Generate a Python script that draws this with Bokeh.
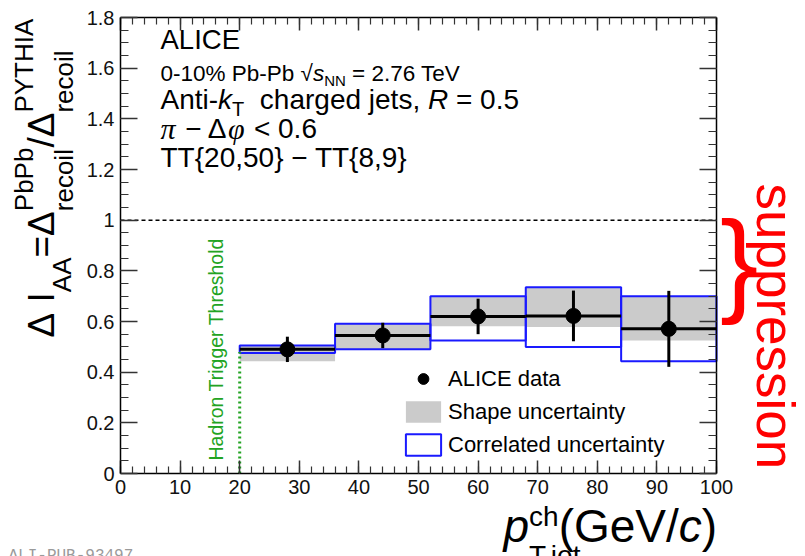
import math
from bokeh.plotting import figure
from bokeh.models import (Range1d, FixedTicker, LinearAxis, Label, Legend, LegendItem)
from bokeh.embed import file_html
from bokeh.resources import INLINE

# ---------------- data ----------------
bin_lo = [20, 36, 52, 68, 84]
bin_hi = [36, 52, 68, 84, 100]
bin_center = [28, 44, 60, 76, 92]
i_aa = [0.490, 0.545, 0.620, 0.622, 0.571]
stat_err = [0.050, 0.050, 0.070, 0.100, 0.150]
shape_lo = [0.443, 0.490, 0.581, 0.578, 0.525]
shape_hi = [0.505, 0.590, 0.700, 0.735, 0.700]
corr_lo = [0.476, 0.490, 0.525, 0.499, 0.443]
corr_hi = [0.505, 0.591, 0.700, 0.735, 0.700]
reference_level = 1.0
threshold_x = [20]
threshold_top = [0.48]

XMIN, XMAX = 0, 100
YMIN, YMAX = 0, 1.8
x_ticks = [0, 10, 20, 30, 40, 50, 60, 70, 80, 90, 100]
x_minor = list(range(0, 101, 2))
y_ticks = [0, 0.2, 0.4, 0.6, 0.8, 1, 1.2, 1.4, 1.6, 1.8]
y_tick_labels = ["0", "0.2", "0.4", "0.6", "0.8", "1", "1.2", "1.4", "1.6", "1.8"]
y_minor = [round(0.05 * i, 2) for i in range(37)]

legend_labels = ["ALICE data", "Shape uncertainty", "Correlated uncertainty"]

FONT = "Liberation Sans"
GREEN = "#22a322"
BLUE = "#1a1aff"
GREY = "#cbcbcb"
RED = "#ff0000"

# page geometry: where the axis box sits on the 805x556 canvas
W_FIG, H_FIG = 805, 556
FL, FR, FT, FB = 120.0, 716.0, 17.0, 473.0


def X(px):
    return XMIN + (px - FL) / (FR - FL) * (XMAX - XMIN)


def Y(py):
    return YMIN + (FB - py) / (FB - FT) * (YMAX - YMIN)


# ---------------- figure ----------------
p = figure(width=W_FIG, height=H_FIG,
           x_range=Range1d(X(0), X(W_FIG)), y_range=Range1d(Y(H_FIG), Y(0)),
           output_backend="svg", toolbar_location=None, min_border=0)
p.title.visible = False
p.xgrid.visible = False
p.ygrid.visible = False
p.outline_line_color = None
p.background_fill_color = "white"
p.border_fill_color = "white"

xt = FixedTicker(ticks=x_ticks, minor_ticks=x_minor)
yt = FixedTicker(ticks=y_ticks, minor_ticks=y_minor)


def style_axis(ax, horizontal, show_labels):
    ax.axis_line_color = "black"
    ax.axis_line_width = 1.5
    ax.major_tick_line_color = "#333333"
    ax.minor_tick_line_color = "#333333"
    ax.major_tick_line_width = 1.5
    ax.minor_tick_line_width = 1.2
    ax.major_tick_out = 0
    ax.minor_tick_out = 0
    if horizontal:
        ax.major_tick_in = 13
        ax.minor_tick_in = 7
    else:
        ax.major_tick_in = 17
        ax.minor_tick_in = 8
    ax.major_label_text_font = FONT
    ax.major_label_text_font_size = "20px"
    if show_labels:
        ax.major_label_text_color = "#111111"
        ax.major_label_standoff = 6
    else:
        ax.major_label_text_color = None
        ax.major_label_standoff = 0


bottom_ax = p.xaxis[0]
bottom_ax.ticker = xt
bottom_ax.fixed_location = YMIN
bottom_ax.bounds = (XMIN, XMAX)
style_axis(bottom_ax, True, True)

left_ax = p.yaxis[0]
left_ax.ticker = yt
left_ax.fixed_location = XMIN
left_ax.bounds = (YMIN, YMAX)
left_ax.major_label_overrides = {t: s for t, s in zip(y_ticks, y_tick_labels)}
style_axis(left_ax, False, True)

top_ax = LinearAxis(ticker=xt, fixed_location=YMAX, bounds=(XMIN, XMAX))
style_axis(top_ax, True, False)
p.add_layout(top_ax, "above")
right_ax = LinearAxis(ticker=yt, fixed_location=XMAX, bounds=(YMIN, YMAX))
style_axis(right_ax, False, False)
p.add_layout(right_ax, "right")

# ---------------- data glyphs ----------------
p.segment(x0=[XMIN], y0=[reference_level], x1=[XMAX], y1=[reference_level],
          line_color="black", line_width=1.5, line_dash="4 3")

shape_r = p.quad(left=bin_lo, right=bin_hi, bottom=shape_lo, top=shape_hi,
                 fill_color=GREY, line_color=None)
corr_r = p.quad(left=bin_lo, right=bin_hi, bottom=corr_lo, top=corr_hi,
                fill_color=None, line_color=BLUE, line_width=2)

p.segment(x0=bin_lo, y0=i_aa, x1=bin_hi, y1=i_aa, line_color="black", line_width=3)
p.segment(x0=bin_center, y0=[v - e for v, e in zip(i_aa, stat_err)],
          x1=bin_center, y1=[v + e for v, e in zip(i_aa, stat_err)],
          line_color="black", line_width=3)
pts = p.scatter(x=bin_center, y=i_aa, size=15, marker="circle",
                fill_color="black", line_color="black")

p.segment(x0=threshold_x, y0=[YMIN], x1=threshold_x, y1=threshold_top,
          line_color=GREEN, line_width=3, line_dash="2 3")

legend = Legend(items=[LegendItem(label=legend_labels[0], renderers=[pts]),
                       LegendItem(label=legend_labels[1], renderers=[shape_r]),
                       LegendItem(label=legend_labels[2], renderers=[corr_r])],
                location=(401, 98), glyph_width=44, glyph_height=27, label_standoff=3,
                spacing=6, padding=0, margin=0, border_line_alpha=0,
                background_fill_alpha=0, label_text_font=FONT,
                label_text_font_size="22px", label_text_color="black", label_height=27)
p.add_layout(legend)

# ---------------- text helpers ----------------
WID = {" ": 278, "!": 278, "%": 889, ",": 278, "-": 333, ".": 278, "/": 278,
       "0": 556, "1": 556, "2": 556, "3": 556, "4": 556, "5": 556, "6": 556,
       "7": 556, "8": 556, "9": 556, "<": 584, "=": 584, "A": 667, "C": 722,
       "E": 667, "G": 778, "H": 722, "I": 278, "L": 556, "N": 722, "P": 667,
       "R": 722, "T": 611, "V": 667, "Y": 667, "a": 556, "b": 556, "c": 500,
       "d": 556, "e": 556, "g": 556, "h": 556, "i": 222, "j": 222, "k": 500,
       "l": 222, "n": 556, "o": 556, "p": 556, "r": 333, "s": 500, "t": 278,
       "u": 556, "y": 500, "{": 334, "}": 334, "(": 333, ")": 333,
       "\u2212": 584, "\u0394": 668, "\u221a": 549}

BASE_FIX = 0.345  # em offset between requested and drawn alphabetic baseline


def tw(text, size):
    return sum(WID.get(ch, 556) for ch in text) * size / 1000.0


def place(px, py, text, size, color="black", font=FONT, style="normal", angle=0.0):
    lead = len(text) - len(text.lstrip(" "))
    off = tw(" " * lead, size)
    px += off * math.cos(angle)
    py -= off * math.sin(angle)
    c = BASE_FIX * size
    px += -c * math.sin(angle)
    py += -c * math.cos(angle)
    p.add_layout(Label(x=X(px), y=Y(py), text=text.strip(" "), text_font=font,
                       text_font_size=f"{size}px", text_font_style=style,
                       text_color=color, angle=angle, text_align="left",
                       text_baseline="alphabetic"))


def rich(px, py, segs, angle=0.0, color="black"):
    pos = 0.0
    for seg in segs:
        group = seg if isinstance(seg, list) else [seg]
        adv = None
        for s in group:
            t, size = s["t"], s["s"]
            d = s.get("d", 0.0)
            if angle == 0.0:
                lx, ly = px + pos, py - d
            else:
                lx, ly = px - d, py - pos
            place(lx, ly, t, size, color=color, font=s.get("f", FONT),
                  style=s.get("st", "normal"), angle=angle)
            if adv is None:
                adv = s.get("w", tw(t, size))
        pos += adv


# header block
place(160, 48, "ALICE", 27.5)
rich(160, 81, [dict(t="0-10% Pb-Pb ", s=22.5), dict(t="\u221a", s=22.5),
               dict(t="s", s=22.5, st="italic"), dict(t="NN", s=15, d=-4),
               dict(t=" = 2.76 TeV", s=22.5)])
rich(160, 109, [dict(t="Anti-", s=28), dict(t="k", s=28, st="italic"),
                dict(t="T", s=20, d=-6), dict(t="  charged jets, ", s=28),
                dict(t="R", s=28, st="italic"), dict(t=" = 0.5", s=28)])
rich(160, 138, [dict(t="\u03c0", s=30, st="italic", f="Liberation Serif", w=17),
                dict(t=" \u2212 \u0394", s=28),
                dict(t="\u03c6", s=30, st="italic", f="Liberation Serif", w=18),
                dict(t=" < 0.6", s=28)])
place(160, 167, "TT{20,50} \u2212 TT{8,9}", 28)

# y axis title (rotated)
M, S = 37, 26
rich(54, 337, [dict(t="\u0394", s=M), dict(t=" ", s=M), dict(t="I", s=M),
               dict(t="AA", s=S, d=-16), dict(t="=", s=M), dict(t="\u0394", s=M),
               [dict(t="PbPb", s=S, d=22), dict(t="recoil", s=S, d=-18)],
               dict(t="/", s=M), dict(t="\u0394", s=M),
               [dict(t="PYTHIA", s=S, d=22), dict(t="recoil", s=S, d=-18)]],
     angle=math.pi / 2)

# x axis title
rich(503, 541, [dict(t="p", s=46, st="italic"),
                [dict(t="ch", s=28, d=15), dict(t="T,jet", s=28, d=-24)],
                dict(t="(GeV/", s=46), dict(t="c", s=46, st="italic"),
                dict(t=")", s=46)])

# trigger threshold text
place(222, 460, "Hadron Trigger Threshold", 19.5, color=GREEN, angle=math.pi / 2)

# red annotation on the right
place(719.5, 300, "}", 115, color=RED)
place(757, 183, "suppression", 53, color=RED, angle=-math.pi / 2)

# figure id at the bottom edge
place(8, 561, "ALI-PUB-93497", 16, color="#9a9a9a", font="Liberation Mono")

open("out.html", "w").write(file_html(p, INLINE))
